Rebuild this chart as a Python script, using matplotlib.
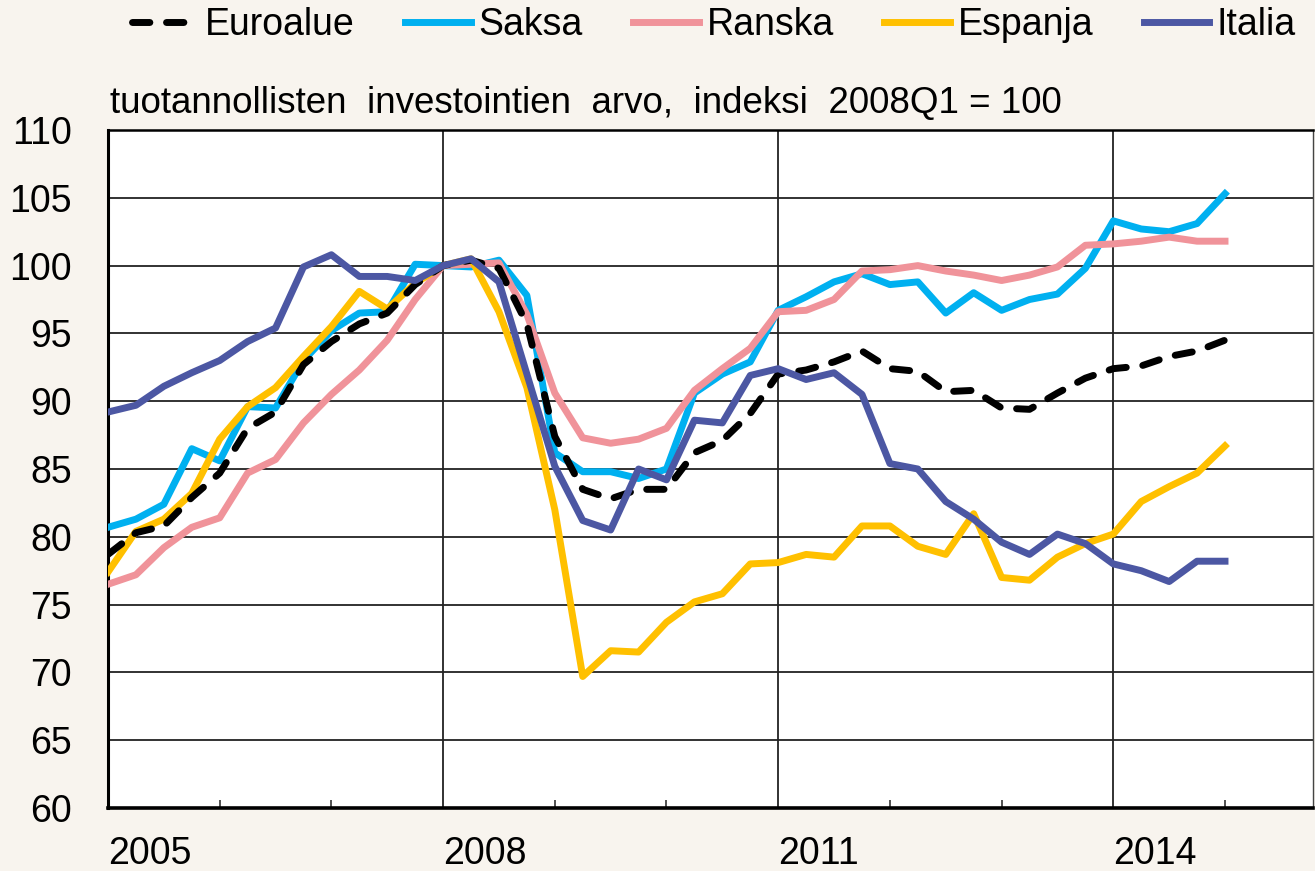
import numpy as np
import matplotlib
matplotlib.use("Agg")
import matplotlib.pyplot as plt

plt.rcParams['font.family'] = ['Liberation Sans', 'DejaVu Sans']

# quarterly data 2005Q1 ... 2015Q1, index 2008Q1 = 100
start_year = 2005
euroalue = [78.7, 80.3, 80.8, 82.9, 84.7, 88.0, 89.2, 92.7, 94.4, 95.7, 96.5, 98.6, 100.0,
            100.4, 99.8, 95.7, 87.4, 83.5, 82.8, 83.5, 83.5, 86.2, 87.1, 89.1, 92.0,
            92.3, 92.9, 93.7, 92.4, 92.2, 90.7, 90.8, 89.5, 89.4, 90.6, 91.7, 92.4, 92.6, 93.3, 93.7, 94.5]
saksa = [80.7, 81.3, 82.4, 86.5, 85.6, 89.6, 89.5, 93.0, 95.2, 96.5, 96.6, 100.1, 100.0,
         99.9, 100.4, 97.8, 86.2, 84.8, 84.8, 84.3, 85.0, 90.6, 92.0, 92.9, 96.7,
         97.7, 98.8, 99.4, 98.6, 98.8, 96.5, 98.0, 96.7, 97.5, 97.9, 99.8, 103.3, 102.7, 102.5, 103.1, 105.3]
ranska = [76.5, 77.2, 79.2, 80.7, 81.4, 84.7, 85.7, 88.4, 90.5, 92.3, 94.5, 97.5, 100.0,
          100.1, 100.2, 96.4, 90.6, 87.3, 86.9, 87.2, 88.0, 90.8, 92.4, 93.9, 96.6,
          96.7, 97.5, 99.6, 99.7, 100.0, 99.6, 99.3, 98.9, 99.3, 99.9, 101.5, 101.6, 101.8, 102.1, 101.8, 101.8]
espanja = [77.4, 80.4, 81.3, 83.2, 87.2, 89.6, 91.0, 93.3, 95.5, 98.1, 96.8, 98.7, 100.0,
           100.5, 96.6, 91.0, 82.0, 69.7, 71.6, 71.5, 73.7, 75.2, 75.8, 78.0, 78.1,
           78.7, 78.5, 80.8, 80.8, 79.3, 78.7, 81.7, 77.0, 76.8, 78.5, 79.5, 80.2, 82.6, 83.7, 84.7, 86.7]
italia = [89.2, 89.7, 91.1, 92.1, 93.0, 94.4, 95.4, 99.9, 100.8, 99.2, 99.2, 98.9, 100.0,
          100.5, 98.8, 92.0, 85.2, 81.2, 80.5, 85.0, 84.2, 88.6, 88.4, 91.9, 92.4,
          91.6, 92.1, 90.5, 85.4, 85.0, 82.6, 81.3, 79.6, 78.7, 80.2, 79.5, 78.0, 77.5, 76.7, 78.2, 78.2]

year_labels = [2005, 2008, 2011, 2014]
subtitle = "tuotannollisten  investointien  arvo,  indeksi  2008Q1 = 100"

t = start_year + np.arange(len(euroalue)) / 4.0

W, H = 1315, 871
fig = plt.figure(figsize=(W / 100, H / 100), dpi=100)
fig.patch.set_facecolor('#f8f4ee')
ax = fig.add_axes([108 / W, 1 - 808 / H, (1313 - 108) / W, (808 - 130) / H])
ax.set_facecolor('white')

lw = 5
l_sa, = ax.plot(t, saksa, color='#00b0f0', lw=lw, label='Saksa', zorder=3)
l_ra, = ax.plot(t, ranska, color='#f0939a', lw=lw, label='Ranska', zorder=3)
l_es, = ax.plot(t, espanja, color='#ffc000', lw=lw, label='Espanja', zorder=3)
l_eu, = ax.plot(t, euroalue, color='black', lw=lw, dashes=(2.5, 2.4), dash_capstyle='round',
                label='Euroalue', zorder=4)
l_it, = ax.plot(t, italia, color='#4c57a3', lw=lw, label='Italia', zorder=5)

ax.set_xlim(start_year, start_year + 1205 / 111.7)
ax.set_ylim(60, 110)
ax.set_yticks(np.arange(60, 111, 5))
ax.set_xticks(year_labels)
ax.set_xticklabels([str(y) for y in year_labels], ha='left')
ax.set_xticks([y for y in range(2006, 2016) if y not in year_labels], minor=True)

ax.grid(True, which='major', color='#222222', lw=1.3)
ax.set_axisbelow(True)
ax.tick_params(axis='x', which='major', length=0, pad=20, labelsize=27)
ax.tick_params(axis='x', which='minor', direction='in', length=5.5, width=1.2, color='#333333')
ax.tick_params(axis='y', length=0, pad=26, labelsize=27)

for side, w in [('left', 2.2), ('bottom', 2.6), ('top', 1.8), ('right', 1.0)]:
    ax.spines[side].set_linewidth(w)
    ax.spines[side].set_color('black' if side != 'right' else '#444444')

fig.text(110 / W, 1 - 113 / H, subtitle, fontsize=26.5, va='baseline', ha='left')

fig.legend([l_eu, l_sa, l_ra, l_es, l_it], ['Euroalue', 'Saksa', 'Ranska', 'Espanja', 'Italia'],
           loc='center', bbox_to_anchor=(714 / W, 1 - 25 / H), ncol=5, frameon=False,
           fontsize=27, handlelength=1.75, handletextpad=0.2, columnspacing=1.35,
           borderpad=0, borderaxespad=0)

fig.savefig('out.png', dpi=100, facecolor=fig.get_facecolor())
